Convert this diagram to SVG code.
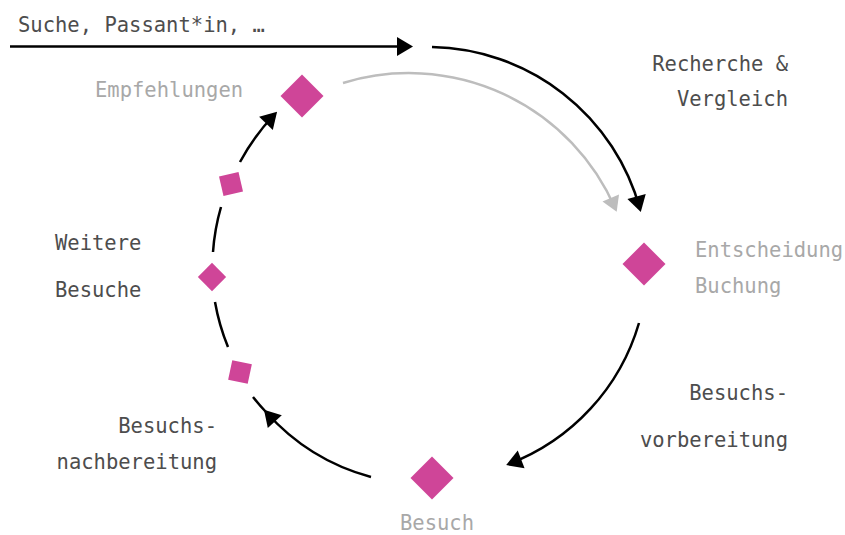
<svg xmlns="http://www.w3.org/2000/svg" width="845" height="535" viewBox="0 0 845 535">
<style>
text{font-family:"DejaVu Sans Mono","Liberation Mono",monospace;font-size:20.5px}
.dk{fill:#4d4d4d}
.lt{fill:#a8a8a8}
.end{text-anchor:end}
.mg{fill:#cf4598}
.ln{fill:none;stroke:#000;stroke-width:2.5}
.gl{fill:none;stroke:#bdbdbd;stroke-width:2.5}
</style>
<defs>
<marker id="ah" markerUnits="userSpaceOnUse" markerWidth="16" markerHeight="19" refX="13" refY="9.5" orient="auto" overflow="visible">
<path d="M0,0 L16,9.5 L0,19 z" fill="#000"/>
</marker>
<marker id="ahg" markerUnits="userSpaceOnUse" markerWidth="15" markerHeight="18" refX="12" refY="9" orient="auto" overflow="visible">
<path d="M0,0 L15,9 L0,18 z" fill="#bdbdbd"/>
</marker>
</defs>
<rect width="845" height="535" fill="#fff"/>
<g id="connectors">
<path class="ln" d="M10,46.5 L410,46.5" marker-end="url(#ah)"/>
<path class="ln" d="M432,47 A220,220 0 0,1 640,209" marker-end="url(#ah)"/>
<path class="gl" d="M343,83 A225,225 0 0,1 615.5,209" marker-end="url(#ahg)"/>
<path class="ln" d="M639,323 A216,216 0 0,1 509,464" marker-end="url(#ah)"/>
<path class="ln" d="M371,477 A216,216 0 0,1 266,412 A216,216 0 0,1 253,397" marker-mid="url(#ah)"/>
<path class="ln" d="M221,207 A216,216 0 0,0 213,252"/>
<path class="ln" d="M215,302 A216,216 0 0,0 228,347"/>
<path class="ln" d="M240,162 A216,216 0 0,1 275,114" marker-end="url(#ah)"/>
</g>
<g id="start">
<text class="dk" x="18" y="31.5">Suche, Passant*in, …</text>
</g>
<g id="empfehlungen">
<rect class="mg" x="-15.2" y="-15.2" width="30.4" height="30.4" transform="translate(302,96) rotate(45)"/>
<text class="lt" x="95" y="96.5">Empfehlungen</text>
</g>
<g id="recherche">
<text class="dk end" x="788" y="70.5">Recherche &amp;</text>
<text class="dk end" x="788" y="106">Vergleich</text>
</g>
<g id="entscheidung">
<rect class="mg" x="-15.2" y="-15.2" width="30.4" height="30.4" transform="translate(644,264) rotate(45)"/>
<text class="lt" x="695" y="257">Entscheidung</text>
<text class="lt" x="695" y="293">Buchung</text>
</g>
<g id="vorbereitung">
<text class="dk end" x="788" y="400">Besuchs-</text>
<text class="dk end" x="788" y="446.5">vorbereitung</text>
</g>
<g id="besuch">
<rect class="mg" x="-15.2" y="-15.2" width="30.4" height="30.4" transform="translate(432,478) rotate(45)"/>
<text class="lt" x="400" y="529.5">Besuch</text>
</g>
<g id="nachbereitung">
<text class="dk end" x="217" y="433">Besuchs-</text>
<text class="dk end" x="217" y="469">nachbereitung</text>
</g>
<g id="weitere">
<rect class="mg" x="-10" y="-10" width="20" height="20" transform="translate(231,184) rotate(-13)"/>
<rect class="mg" x="-10" y="-10" width="20" height="20" transform="translate(212,277) rotate(45)"/>
<rect class="mg" x="-10" y="-10" width="20" height="20" transform="translate(240,372) rotate(12)"/>
<text class="dk" x="55" y="250">Weitere</text>
<text class="dk" x="55" y="296.5">Besuche</text>
</g>
</svg>
